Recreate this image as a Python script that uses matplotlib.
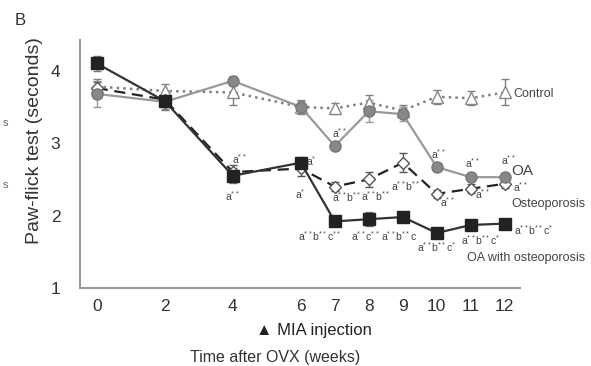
import matplotlib.pyplot as plt

weeks = [0, 2, 4, 6, 7, 8, 9, 10, 11, 12]

control = [3.78, 3.72, 3.70, 3.50, 3.48, 3.56, 3.45, 3.64, 3.62, 3.70]
control_err = [0.10, 0.10, 0.18, 0.10, 0.08, 0.10, 0.08, 0.10, 0.10, 0.18]

oa = [3.68, 3.57, 3.86, 3.50, 2.96, 3.44, 3.40, 2.67, 2.53, 2.53]
oa_err = [0.18, 0.10, 0.07, 0.08, 0.06, 0.15, 0.10, 0.06, 0.04, 0.06]

osteo = [3.76, 3.60, 2.60, 2.65, 2.40, 2.50, 2.73, 2.30, 2.37, 2.44]
osteo_err = [0.08, 0.08, 0.10, 0.10, 0.06, 0.10, 0.13, 0.06, 0.06, 0.06]

oa_osteo = [4.10, 3.58, 2.55, 2.73, 1.92, 1.95, 1.98, 1.76, 1.87, 1.89]
oa_osteo_err = [0.10, 0.12, 0.10, 0.08, 0.05, 0.10, 0.04, 0.04, 0.07, 0.04]

# significance annotations: (x, y, text)
notes = [
    (4.2, 2.78, "a$^{**}$"), (4.0, 2.27, "a$^{**}$"),
    (6.3, 2.75, "a$^{*}$"), (6.0, 2.30, "a$^{*}$"),
    (7.15, 3.14, "a$^{**}$"), (7.35, 2.25, "a$^{**}$b$^{**}$"),
    (6.55, 1.72, "a$^{**}$b$^{**}$c$^{**}$"),
    (8.2, 2.27, "a$^{**}$b$^{**}$"), (7.9, 1.72, "a$^{**}$c$^{**}$"),
    (9.1, 2.41, "a$^{**}$b$^{**}$"), (8.9, 1.72, "a$^{**}$b$^{**}$c"),
    (10.05, 2.85, "a$^{**}$"), (10.3, 2.18, "a$^{**}$"),
    (10.0, 1.57, "a$^{**}$b$^{**}$c$^{*}$"),
    (11.05, 2.72, "a$^{**}$"), (11.35, 2.30, "a$^{**}$"),
    (11.3, 1.66, "a$^{**}$b$^{**}$c$^{*}$"),
    (12.1, 2.77, "a$^{**}$"), (12.45, 2.40, "a$^{**}$"),
    (12.85, 1.80, "a$^{**}$b$^{**}$c$^{*}$"),
]

plt.rcParams["font.family"] = ["Liberation Sans", "DejaVu Sans"]
plt.rcParams["mathtext.default"] = "regular"

fig = plt.figure(figsize=(5.91, 3.66), dpi=100)
ax = fig.add_axes([0.135, 0.213, 0.745, 0.677])

ax.errorbar(weeks, control, yerr=control_err, color="#808080", ls=":", lw=1.8,
            marker="^", ms=8, mfc="white", mec="#888888", capsize=3, elinewidth=1)
ax.errorbar(weeks, osteo, yerr=osteo_err, color="#222222", ls=(0, (5, 3)), lw=1.6,
            marker="D", ms=6, mfc="white", mec="#555555", capsize=3, elinewidth=1,
            ecolor="#555555")
ax.errorbar(weeks, oa, yerr=oa_err, color="#999999", ls="-", lw=1.6,
            marker="o", ms=8, mfc="#888888", mec="#777777", capsize=3, elinewidth=1)
ax.errorbar(weeks, oa_osteo, yerr=oa_osteo_err, color="#333333", ls="-", lw=1.6,
            marker="s", ms=8, mfc="#222222", mec="#222222", capsize=3, elinewidth=1,
            ecolor="#777777")

for x, y, t in notes:
    ax.text(x, y, t, fontsize=7.5, color="#444444", ha="center", va="center")

ax.text(12.25, 3.68, "Control", fontsize=9, color="#444444", va="center")
ax.text(12.2, 2.62, "OA", fontsize=11, color="#444444", va="center")
ax.text(12.2, 2.16, "Osteoporosis", fontsize=9, color="#444444", va="center")
ax.text(10.9, 1.42, "OA with osteoporosis", fontsize=9, color="#444444", va="center")

ax.set_xlim(-0.5, 12.45)
ax.set_ylim(1, 4.42)
ax.set_xticks(weeks)
ax.set_yticks([1, 2, 3, 4])
ax.tick_params(length=0, labelsize=12.5, colors="#333333")
ax.tick_params(axis="x", pad=8)
ax.tick_params(axis="y", pad=14)
for s in ["top", "right"]:
    ax.spines[s].set_visible(False)
for s in ["left", "bottom"]:
    ax.spines[s].set_color("#999999")
    ax.spines[s].set_linewidth(1.5)

fig.text(0.058, 0.615, "Paw-flick test (seconds)", fontsize=14, color="#333333",
         rotation=90, ha="center", va="center")
fig.text(0.531, 0.098, "\u25b2 MIA injection", fontsize=12, color="#222222", ha="center", va="center")
fig.text(0.465, 0.022, "Time after OVX (weeks)", fontsize=11.5, color="#333333", ha="center", va="center")
fig.text(0.034, 0.945, "B", fontsize=12, color="#333333", ha="center", va="center")
# cut-off fragments from the neighbouring panel
fig.text(0.005, 0.665, "s", fontsize=8, color="#666666", va="center")
fig.text(0.005, 0.495, "s", fontsize=8, color="#666666", va="center")

fig.savefig("out.png", dpi=100)
